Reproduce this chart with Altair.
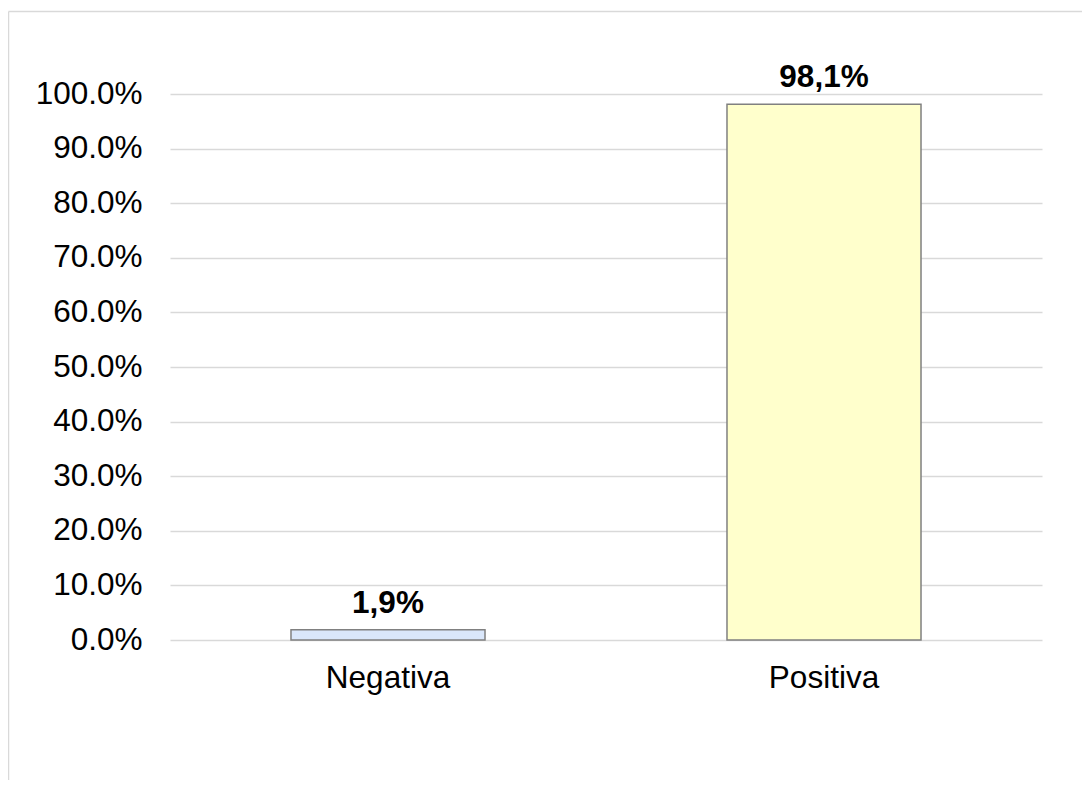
import altair as alt
import pandas as pd

categories = ["Negativa", "Positiva"]
values = [0.019, 0.981]
labels = ["1,9%", "98,1%"]
fills = ["#dae7fb", "#ffffcc"]

df = pd.DataFrame({"cat": categories, "val": values, "lab": labels, "fill": fills})

FONT = "Liberation Sans"
W, H = 872, 546
FS = 31.5

x = alt.X("cat:N", sort=categories, title=None,
          scale=alt.Scale(paddingInner=0.555, paddingOuter=0.2775),
          axis=alt.Axis(labelAngle=0, ticks=False, domain=False, labelPadding=22,
                        labelFontSize=FS, labelFont=FONT, labelColor="#000000"))
y = alt.Y("val:Q", title=None,
          scale=alt.Scale(domain=[0, 1], nice=False),
          axis=alt.Axis(format=".1%", values=[i / 10 for i in range(11)], ticks=False,
                        domain=False, labelPadding=28, labelFontSize=FS, labelFont=FONT,
                        labelColor="#000000", gridColor="#d9d9d9", gridWidth=1.5))

base = alt.Chart(df)
bars = base.mark_bar(stroke="#808080", strokeWidth=1.5).encode(
    x=x, y=y, fill=alt.Fill("fill:N", scale=None))
text = base.mark_text(baseline="alphabetic", dy=-17, fontSize=FS, fontWeight="bold",
                      font=FONT, color="#000000").encode(
    x=alt.X("cat:N", sort=categories), y="val:Q", text="lab:N")

frame = pd.DataFrame({"k": [0]})
left_line = alt.Chart(frame).mark_rule(color="#d9d9d9", strokeWidth=1.5).encode(
    x=alt.value(-161.5), y=alt.value(-82.5), y2=alt.value(H + 160))
top_line = alt.Chart(frame).mark_rule(color="#d9d9d9", strokeWidth=1.5).encode(
    x=alt.value(-161.5), x2=alt.value(W + 60), y=alt.value(-82.5))

chart = alt.layer(left_line, top_line, bars, text).properties(
    width=W, height=H,
    autosize=alt.AutoSizeParams(type="none"),
    padding={"left": 162, "top": 86, "right": 40, "bottom": 140},
    background="#ffffff",
).configure_view(stroke=None)

chart.save("out.html", embed_options={"renderer": "svg", "actions": False})
